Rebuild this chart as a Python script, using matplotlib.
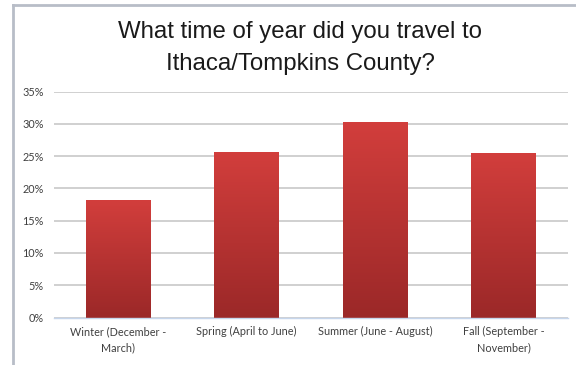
import matplotlib.pyplot as plt
import numpy as np
from matplotlib.colors import LinearSegmentedColormap
from matplotlib.lines import Line2D

categories = ["Winter (December -\nMarch)", "Spring (April to June)",
              "Summer (June - August)", "Fall (September -\nNovember)"]
shares = [18.2, 25.6, 30.3, 25.5]
yticks = [0, 5, 10, 15, 20, 25, 30, 35]
title_lines = ["What time of year did you travel to", "Ithaca/Tompkins County?"]

fig = plt.figure(figsize=(5.76, 3.65), dpi=100)
ax = fig.add_axes([0.093, 0.130, 0.893, 0.619])

x = np.arange(len(categories))
bars = ax.bar(x, shares, width=0.5, color="#b83232", zorder=2)

# vertical red gradient, lighter at top
cmap = LinearSegmentedColormap.from_list("red", ["#9b2828", "#d23e3c"])
grad = np.linspace(0, 1, 256).reshape(-1, 1)
for b in bars:
    x0, y0 = b.get_x(), b.get_y()
    im = ax.imshow(grad, cmap=cmap, origin="lower", aspect="auto",
                   extent=(x0, x0 + b.get_width(), y0, y0 + b.get_height()),
                   zorder=3)
    im.set_clip_path(b)

ax.set_xlim(-0.5, len(categories) - 0.5)
ax.set_ylim(0, 35)
ax.set_yticks(yticks)
ax.set_yticklabels([f"{t}%" for t in yticks])
ax.set_xticks(x)
ax.set_xticklabels(categories, linespacing=1.55)
for lab in ax.get_xticklabels() + ax.get_yticklabels():
    lab.set_fontfamily("Lato")
    lab.set_fontsize(7.8)
    lab.set_color("#404040")

ax.grid(axis="y", color="#c8c8c8", linewidth=1.2, zorder=0)
ax.set_axisbelow(True)
for s in ["top", "right", "left"]:
    ax.spines[s].set_visible(False)
ax.spines["bottom"].set_color("#c6d6ec")
ax.spines["bottom"].set_linewidth(1.0)
ax.spines["bottom"].set_zorder(4)
ax.tick_params(axis="x", length=0, pad=6)
ax.tick_params(axis="y", length=0, pad=7)

for i, line in enumerate(title_lines):
    fig.text(300 / 576, 1 - (38 + 32 * i) / 365, line, ha="center",
             va="baseline", fontsize=17.3, family="Liberation Sans",
             color="#1a1a1a")

# chart frame edges (top and left)
fig.add_artist(Line2D([12.5 / 576, 1], [1 - 4.5 / 365, 1 - 4.5 / 365],
                      transform=fig.transFigure, color="#b8bdc7", lw=2))
fig.add_artist(Line2D([12.5 / 576, 12.5 / 576], [0, 1 - 4.5 / 365],
                      transform=fig.transFigure, color="#b8bdc7", lw=2))

fig.savefig("out.png", dpi=100)
